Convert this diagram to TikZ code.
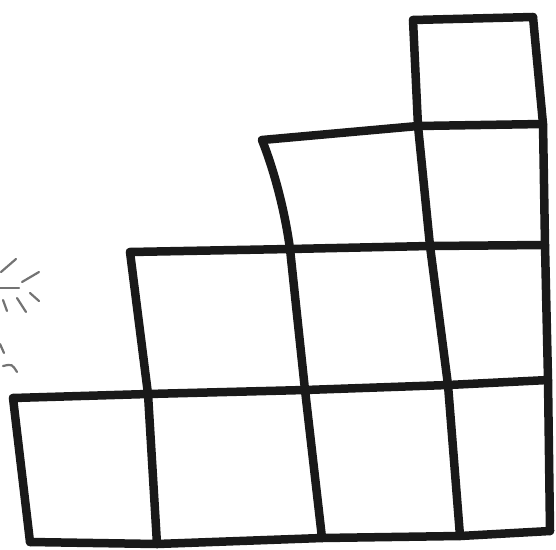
\documentclass[tikz,border=0pt]{standalone}
\usepackage{tikz}
\usetikzlibrary{calc}

\begin{document}
\begin{tikzpicture}[
  x=1pt, y=-1pt,
  pen/.style={line width=8.5pt, line cap=round, line join=round, black!90},
  faint/.style={line width=2.2pt, line cap=round, black!55},
]
  \useasboundingbox (0,0) rectangle (556,549);

  % corner points of the staircase
  \coordinate (a0) at (13,398);   \coordinate (a1) at (30,542);
  \coordinate (b0) at (130,252);  \coordinate (b1) at (148,394);  \coordinate (b2) at (157,544);
  \coordinate (c0) at (262,140);  \coordinate (c1) at (290,249);  \coordinate (c2) at (305,390);  \coordinate (c3) at (322,538);
  \coordinate (d0) at (413,20);   \coordinate (d1) at (418,126);  \coordinate (d2) at (430,246);  \coordinate (d3) at (448,385);  \coordinate (d4) at (460,536);
  \coordinate (e0) at (533,17);   \coordinate (e1) at (543,124);  \coordinate (e2) at (545,245);  \coordinate (e3) at (548,380);  \coordinate (e4) at (550,531);

  % columns
  \draw[pen] (a0) -- (a1);
  \draw[pen] (b0) -- (b1) -- (b2);
  \draw[pen] (c0) .. controls (272,165) and (284,205) .. (c1) -- (c2) -- (c3);
  \draw[pen] (d0) -- (d1) -- (d2) -- (d3) -- (d4);
  \draw[pen] (e0) -- (e1) -- (e2) -- (e3) -- (e4);

  % rows
  \draw[pen] (d0) -- (e0);
  \draw[pen] (c0) -- (d1) -- (e1);
  \draw[pen] (b0) -- (c1) -- (d2) -- (e2);
  \draw[pen] (a0) -- (b1) -- (c2) -- (d3) -- (e3);
  \draw[pen] (a1) -- (b2) -- (c3) -- (d4) -- (e4);

  % faint marks on the left
  \draw[faint] (1,272) -- (16,259);
  \draw[faint] (22,282) -- (39,272);
  \draw[faint] (0,288) -- (19,288);
  \draw[faint] (3,300) -- (7,311);
  \draw[faint] (17,298) -- (26,312);
  \draw[faint] (30,293) -- (39,301);
  \draw[faint] (0,344) -- (4,353);
  \draw[faint] (3,366) .. controls (12,364) .. (17,372);
\end{tikzpicture}
\end{document}
